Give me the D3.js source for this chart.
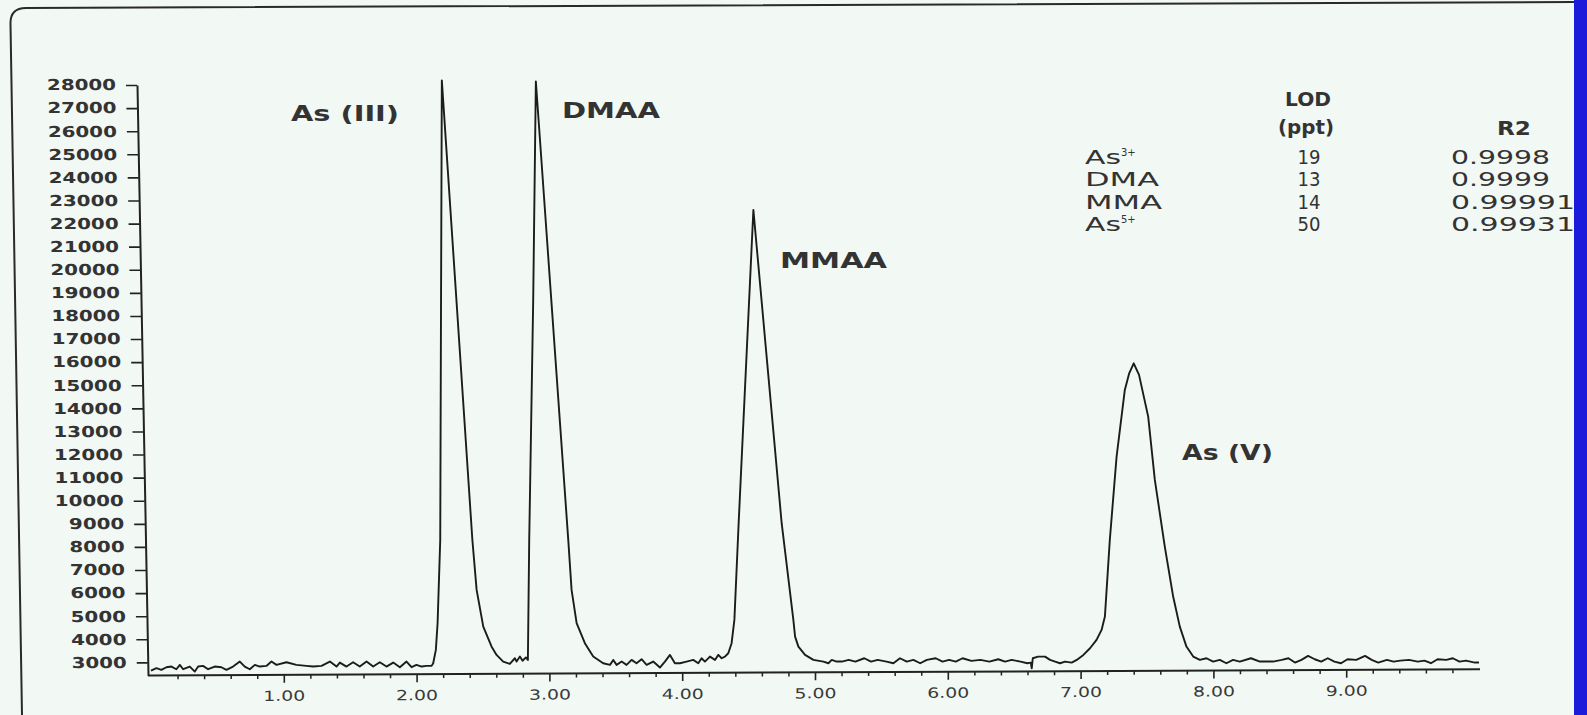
<!DOCTYPE html>
<html>
<head>
<meta charset="utf-8">
<script src="https://cdn.jsdelivr.net/npm/d3@7/dist/d3.min.js"></script>
<style>
body { margin: 0; background: #f2f8f3; }
svg { display: block; }
</style>
</head>
<body>
<svg></svg>
<script>
var width, height, svg, xScale, yScale, xAxis, xMinorAxis, yAxis, line;

width = 1587;
height = 715;

// chromatogram trace, retention time (min) and counts
var times = [
	0.000, 0.041, 0.078, 0.116, 0.154, 0.191, 0.217, 0.242, 0.292, 0.330, 0.355, 0.392, 0.430, 0.480,
	0.530, 0.568, 0.618, 0.669, 0.706, 0.744, 0.782, 0.819, 0.869, 0.907, 0.945, 1.020, 1.095, 1.171,
	1.221, 1.284, 1.347, 1.397, 1.422, 1.472, 1.522, 1.572, 1.623, 1.673, 1.723, 1.773, 1.824, 1.874,
	1.924, 1.962, 1.999, 2.037, 2.075, 2.113, 2.125, 2.145, 2.158, 2.170, 2.178, 2.184, 2.190,
	2.420, 2.452, 2.502, 2.564, 2.602, 2.652, 2.702, 2.740, 2.753, 2.778, 2.798, 2.823, 2.838,
	2.848, 2.878, 2.898, 3.142, 3.167, 3.205, 3.267, 3.330, 3.405,
	3.456, 3.481, 3.506, 3.544, 3.581, 3.619, 3.656, 3.694, 3.732, 3.782, 3.832, 3.870, 3.908, 3.945,
	3.983, 4.033, 4.083, 4.121, 4.146, 4.171, 4.209, 4.247, 4.272, 4.297, 4.322,
	4.347, 4.372, 4.393, 4.425, 4.536, 4.749, 4.837, 4.850, 4.875, 4.925, 4.988, 5.063, 5.101, 5.126,
	5.163, 5.203, 5.254, 5.304, 5.371, 5.422, 5.472, 5.539, 5.590, 5.640, 5.691, 5.741, 5.792, 5.842,
	5.909, 5.960, 6.010, 6.060, 6.111, 6.178, 6.245, 6.313, 6.380, 6.431, 6.481, 6.548, 6.599, 6.625,
	6.632, 6.640, 6.680, 6.732, 6.770, 6.808, 6.845, 6.883, 6.933, 6.971, 7.021, 7.071, 7.120, 7.158,
	7.183, 7.220, 7.271, 7.333, 7.365, 7.400, 7.440, 7.509, 7.559, 7.634, 7.697, 7.747, 7.797, 7.848,
	7.898, 7.948, 7.998, 8.048, 8.098, 8.148, 8.198, 8.283, 8.350, 8.449, 8.515, 8.565, 8.614, 8.663,
	8.713, 8.763, 8.812, 8.861, 8.911, 8.961, 9.010, 9.076, 9.142, 9.192, 9.241, 9.307, 9.357, 9.407,
	9.473, 9.539, 9.589, 9.638, 9.688, 9.754, 9.803, 9.853, 9.902, 9.968, 10.000
];
var counts = [
	2646, 2748, 2675, 2791, 2820, 2704, 2892, 2704, 2820, 2603, 2820, 2848, 2704, 2820,
	2791, 2675, 2820, 3036, 2820, 2704, 2892, 2820, 2848, 3036, 2892, 3007, 2892, 2848,
	2820, 2848, 3036, 2820, 2993, 2820, 3007, 2820, 3036, 2820, 3007, 2820, 2993, 2791,
	3036, 2791, 2892, 2820, 2848, 2850, 2964, 3541, 4697, 6861, 8300, 18700, 28200,
	8300, 6140, 4550, 3690, 3325, 3036, 2935, 3180, 3036, 3252, 3072, 3216, 3108,
	8300, 18690, 28150, 8303, 6139, 4697, 3831, 3252, 2964,
	2892, 3108, 2892, 3036, 2892, 3108, 2964, 3137, 2892, 3036, 2776, 3036, 3325, 2964,
	2964, 3036, 3108, 2964, 3180, 3036, 3252, 3108, 3325, 3180, 3252,
	3397, 3830, 4840, 9026, 22590, 9026, 4840, 4118, 3685, 3325, 3108, 3036, 2964, 3108,
	3036, 3036, 3108, 3036, 3180, 3036, 3108, 3036, 2964, 3180, 3036, 3108, 2964, 3108,
	3180, 3036, 3108, 3036, 3180, 3065, 3108, 3036, 3137, 3036, 3108, 3036, 2964, 2990,
	2740, 3180, 3252, 3252, 3108, 3036, 2964, 3036, 2993, 3108, 3325, 3613, 3974, 4407,
	4984, 8303, 11910, 14797, 15500, 15951, 15450, 13640, 10900, 8016, 5850, 4551, 3685, 3252,
	3108, 3180, 3036, 3108, 2964, 3108, 3036, 3180, 3036, 3036, 3108, 3180, 2993, 3108,
	3281, 3137, 3036, 3180, 3036, 2964, 3137, 3108, 3281, 3108, 2993, 3108, 3036, 3079,
	3108, 3036, 3079, 2964, 3137, 3108, 3180, 3036, 3079, 2993, 2993
];

// axes
var yTicks = [3000, 4000, 5000, 6000, 7000, 8000, 9000, 10000, 11000, 12000, 13000, 14000, 15000,
	16000, 17000, 18000, 19000, 20000, 21000, 22000, 23000, 24000, 25000, 26000, 27000, 28000];
var xTicks = [1, 2, 3, 4, 5, 6, 7, 8, 9];
var xTickLabels = ["1.00", "2.00", "3.00", "4.00", "5.00", "6.00", "7.00", "8.00", "9.00"];

// annotations
var peakNames = ["As (III)", "DMAA", "MMAA", "As (V)"];
var species = [["As", "3+"], ["DMA", ""], ["MMA", ""], ["As", "5+"]];
var lodPpt = [19, 13, 14, 50];
var r2Values = ["0.9998", "0.9999", "0.99991", "0.99931"];

// where the peak names sit on the page: [x start, baseline, text width]
var peakLabelPos = [[291, 121, 108], [562, 118, 98], [780, 268, 107], [1182, 460, 91]];

xScale = d3.scaleLinear()
		.domain([0, 10])
		.range([151, 1479]);

yScale = d3.scaleLinear()
		.domain([2433, 28000])
		.range([675.5, 85]);

svg = d3.select("svg")
	.attr("width", width)
	.attr("height", height)
	.style("font-family", "'DejaVu Sans', sans-serif");

svg.append("rect")
	.attr("width", width)
	.attr("height", height)
	.attr("fill", "#f2f8f3");

// rounded frame of the printout
svg.append("path")
	.attr("d", "M1574,2 L26,8 Q10,8 10.5,24 L22,715")
	.attr("fill", "none")
	.attr("stroke", "#2a2a2a")
	.attr("stroke-width", 2);

// y axis, the scan leans a little
yAxis = d3.axisLeft(yScale)
		.tickValues(yTicks)
		.tickSize(11)
		.tickSizeOuter(0)
		.tickPadding(10)
		.tickFormat(d3.format("d"));

var gy = svg.append("g")
	.attr("transform", "translate(135.4,0) skewX(1.07)")
	.call(yAxis);

gy.attr("font-family", "'DejaVu Sans', sans-serif")
	.attr("font-size", 15);
gy.select(".domain")
	.attr("stroke", "#222")
	.attr("stroke-width", 2);
gy.selectAll(".tick line")
	.attr("stroke", "#222")
	.attr("stroke-width", 1.6);
gy.selectAll(".tick text")
	.attr("font-weight", "bold")
	.attr("fill", "#333")
	.attr("textLength", d => String(d).length * 13.8)
	.attr("lengthAdjust", "spacingAndGlyphs");

// x axis: labelled whole minutes, minor ticks every 0.2
xMinorAxis = d3.axisBottom(xScale)
		.tickValues(d3.range(1, 50).map(i => i / 5).filter(d => d % 1 !== 0))
		.tickSize(4)
		.tickSizeOuter(0)
		.tickFormat("");

xAxis = d3.axisBottom(xScale)
		.tickValues(xTicks)
		.tickSize(8)
		.tickSizeOuter(0)
		.tickPadding(8)
		.tickFormat((d, i) => xTickLabels[i]);

var gxMinor = svg.append("g")
	.attr("transform", "translate(0,676.2) skewY(-0.27)")
	.call(xMinorAxis);
gxMinor.select(".domain").remove();
gxMinor.selectAll(".tick line")
	.attr("stroke", "#222")
	.attr("stroke-width", 1.5);

var gx = svg.append("g")
	.attr("transform", "translate(0,676.2) skewY(-0.27)")
	.call(xAxis);

gx.attr("font-family", "'DejaVu Sans', sans-serif")
	.attr("font-size", 14);
gx.select(".domain")
	.attr("d", "M148,0H1480")
	.attr("stroke", "#222")
	.attr("stroke-width", 2);
gx.selectAll(".tick line")
	.attr("stroke", "#222")
	.attr("stroke-width", 1.6);
gx.selectAll(".tick text")
	.attr("fill", "#3a3a3a")
	.attr("textLength", 42)
	.attr("lengthAdjust", "spacingAndGlyphs");

// the trace
line = d3.line()
		.x((d, i) => xScale(times[i]))
		.y(d => yScale(d));

svg.append("path")
	.datum(counts)
	.attr("d", line)
	.attr("fill", "none")
	.attr("stroke", "#1c1c1c")
	.attr("stroke-width", 1.9)
	.attr("stroke-linejoin", "round");

// peak names
svg.selectAll(".peak-name")
	.data(peakNames)
	.enter()
	.append("text")
		.attr("class", "peak-name")
		.attr("x", (d, i) => peakLabelPos[i][0])
		.attr("y", (d, i) => peakLabelPos[i][1])
		.attr("textLength", (d, i) => peakLabelPos[i][2])
		.attr("lengthAdjust", "spacingAndGlyphs")
		.attr("font-size", 21)
		.attr("font-weight", "bold")
		.attr("fill", "#333")
		.text(d => d);

// LOD / R2 table
var table = svg.append("g")
	.attr("font-size", 20)
	.attr("fill", "#333");

[["LOD", 1308, 106, 46], ["(ppt)", 1306, 134, 56], ["R2", 1514, 135, 34]].forEach(h => {
	table.append("text")
		.attr("x", h[1])
		.attr("y", h[2])
		.attr("text-anchor", "middle")
		.attr("font-weight", "bold")
		.attr("font-size", 19)
		.attr("textLength", h[3])
		.attr("lengthAdjust", "spacingAndGlyphs")
		.text(h[0]);
});

var rowY = [164, 186, 208.5, 231];

var speciesText = table.selectAll(".species")
	.data(species)
	.enter()
	.append("text")
		.attr("x", 1085)
		.attr("y", (d, i) => rowY[i]);

speciesText.append("tspan")
	.attr("textLength", d => d[0] === "DMA" ? 74 : d[0] === "MMA" ? 77 : 36)
	.attr("lengthAdjust", "spacingAndGlyphs")
	.text(d => d[0]);

speciesText.filter(d => d[1] !== "")
	.append("tspan")
		.attr("dy", -8)
		.attr("font-size", 10)
		.text(d => d[1]);

table.selectAll(".lod")
	.data(lodPpt)
	.enter()
	.append("text")
		.attr("x", 1309)
		.attr("y", (d, i) => rowY[i])
		.attr("text-anchor", "middle")
		.attr("textLength", 23)
		.attr("lengthAdjust", "spacingAndGlyphs")
		.text(d => d);

table.selectAll(".r2")
	.data(r2Values)
	.enter()
	.append("text")
		.attr("x", 1451)
		.attr("y", (d, i) => rowY[i])
		.attr("textLength", d => d.length === 6 ? 99 : 124)
		.attr("lengthAdjust", "spacingAndGlyphs")
		.text(d => d);

// blue edge of the slide
svg.append("rect")
	.attr("x", 1574)
	.attr("y", 0)
	.attr("width", width - 1574)
	.attr("height", height)
	.attr("fill", "#1b1bdc");
</script>
</body>
</html>
